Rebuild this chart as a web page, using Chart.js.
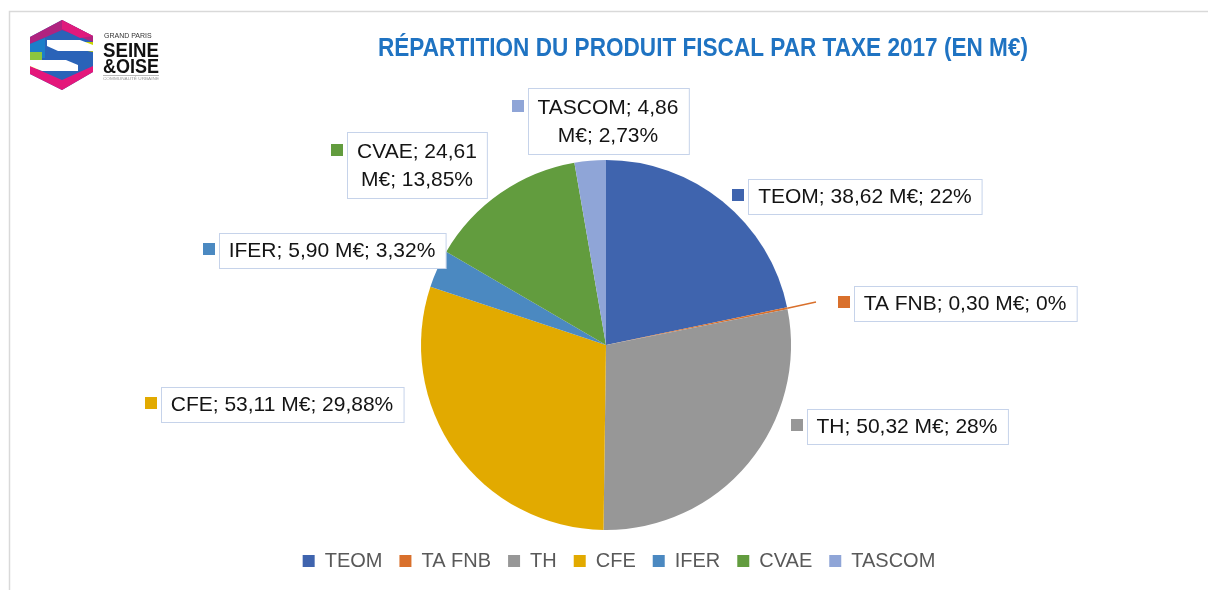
<!DOCTYPE html>
<html>
<head>
<meta charset="utf-8">
<script src="https://cdn.jsdelivr.net/npm/chart.js@4.4.0/dist/chart.umd.min.js"></script>
<style>
  body { margin: 0; background: #fff; }
  #wrap { position: absolute; left: 0; top: 0; width: 1208px; height: 590px; }
</style>
</head>
<body>
<div id="wrap"><canvas id="taxChart" width="1208" height="590"></canvas></div>
<script>
const taxNames = ['TEOM', 'TA FNB', 'TH', 'CFE', 'IFER', 'CVAE', 'TASCOM'];
const taxValues = [38.62, 0.30, 50.32, 53.11, 5.90, 24.61, 4.86];
const taxPercents = ['22%', '0%', '28%', '29,88%', '3,32%', '13,85%', '2,73%'];
const taxColors = ['#3f64ae', '#d9702c', '#979797', '#e2aa00', '#4b89c1', '#629c3e', '#8fa5d7'];

// where each callout box sits (centre), and whether it wraps on two lines
const calloutLayout = [
    { cx: 865, cy: 196 },
    { cx: 965, cy: 303, leaderTo: [816, 302] },
    { cx: 907, cy: 426 },
    { cx: 282, cy: 404 },
    { cx: 332, cy: 250 },
    { cx: 417, cy: 165, wrap: true },
    { cx: 608, cy: 121, wrap: true }
];

const LABEL_FONT = '21px "Liberation Sans", Arial, sans-serif';

function fmt(v) {
    return v.toFixed(2).replace('.', ',');
}

// frame, logo and title
const decorPlugin = {
    id: 'decor',
    afterLayout(chart) {
        // legend sits a little right of the pie centre in the original
        chart.legend.left += 13;
        chart.legend.right += 13;
    },
    beforeDraw(chart) {
        const c = chart.ctx;
        c.save();
        c.fillStyle = '#fff';
        c.fillRect(0, 0, chart.width, chart.height);
        c.strokeStyle = '#d9d9d9';
        c.lineWidth = 1.5;
        c.beginPath();
        c.moveTo(9.5, 600);
        c.lineTo(9.5, 11.5);
        c.lineTo(1220, 11.5);
        c.stroke();

        // logo hexagon
        const poly = (pts, col) => {
            c.fillStyle = col;
            c.beginPath();
            pts.forEach((p, i) => i ? c.lineTo(p[0], p[1]) : c.moveTo(p[0], p[1]));
            c.closePath();
            c.fill();
        };
        poly([[62, 20], [93, 36], [93, 72], [62, 90], [30, 74], [30, 37]], '#2a63b8');
        poly([[62, 20], [93, 36], [93, 42], [62, 30], [30, 44], [30, 37]], '#b0237f');
        poly([[62, 20], [93, 36], [80, 38], [62, 29]], '#e01a7c');
        poly([[30, 44], [45, 38], [45, 58], [30, 58]], '#1c7fc9');
        poly([[30, 52], [42, 52], [42, 62], [30, 60]], '#8cc63f');
        poly([[30, 60], [42, 62], [42, 70], [30, 68]], '#f2e500');
        poly([[62, 90], [93, 72], [93, 66], [62, 80], [30, 66], [30, 74]], '#e4177b');
        poly([[82, 42], [93, 42], [93, 52], [82, 50]], '#c8d400');
        poly([[47, 40], [80, 40], [93, 45], [93, 51], [58, 51], [47, 46]], '#ffffff');
        poly([[30, 60], [66, 60], [78, 65], [78, 71], [42, 71], [30, 66]], '#ffffff');

        c.fillStyle = '#333';
        c.textBaseline = 'alphabetic';
        c.textAlign = 'left';
        c.font = '7px "Liberation Sans", Arial, sans-serif';
        c.fillText('GRAND PARIS', 104, 38);
        const fitText = (txt, x, y, w, font) => {
            c.font = font;
            const m = c.measureText(txt).width;
            c.save();
            c.translate(x, y);
            c.scale(w / m, 1);
            c.fillText(txt, 0, 0);
            c.restore();
        };
        c.fillStyle = '#111';
        fitText('SEINE', 103, 57, 56, 'bold 21px "Liberation Sans Narrow", "Liberation Sans", sans-serif');
        fitText('&OISE', 103, 73, 56, 'bold 21px "Liberation Sans Narrow", "Liberation Sans", sans-serif');
        c.fillStyle = '#999';
        c.fillRect(103, 75, 56, 0.7);
        fitText('COMMUNAUTÉ URBAINE', 103, 80, 56, '4px "Liberation Sans", sans-serif');

        // title
        c.fillStyle = '#1f73c2';
        fitText('RÉPARTITION DU PRODUIT FISCAL PAR TAXE 2017 (EN M€)', 378, 56, 650,
            'bold 26px "Liberation Sans Narrow", "Liberation Sans", sans-serif');
        c.restore();
    }
};

// Excel-style callouts: boxed text with a colour key square
const calloutPlugin = {
    id: 'callouts',
    afterDatasetsDraw(chart) {
        const c = chart.ctx;
        const meta = chart.getDatasetMeta(0);
        c.save();
        c.font = LABEL_FONT;
        c.textAlign = 'center';
        c.textBaseline = 'middle';
        calloutLayout.forEach((pos, i) => {
            const val = fmt(taxValues[i]);
            const lines = pos.wrap
                ? [taxNames[i] + '; ' + val, 'M€; ' + taxPercents[i]]
                : [taxNames[i] + '; ' + val + ' M€; ' + taxPercents[i]];
            const lh = 28;
            const w = Math.max(...lines.map(l => c.measureText(l).width)) + 20;
            const h = lines.length === 1 ? 35 : 66;
            const left = Math.round(pos.cx - w / 2) + 0.5;
            const top = Math.round(pos.cy - h / 2) + 0.5;

            if (pos.leaderTo) {
                const arc = meta.data[i];
                const mid = (arc.startAngle + arc.endAngle) / 2;
                c.strokeStyle = taxColors[i];
                c.lineWidth = 1.5;
                c.beginPath();
                c.moveTo(arc.x + Math.cos(mid) * arc.outerRadius, arc.y + Math.sin(mid) * arc.outerRadius);
                c.lineTo(pos.leaderTo[0], pos.leaderTo[1]);
                c.stroke();
            }

            c.fillStyle = '#fff';
            c.fillRect(left, top, w, h);
            c.strokeStyle = '#c6d3ea';
            c.lineWidth = 1;
            c.strokeRect(left, top, w, h);

            const firstY = pos.cy - (lines.length - 1) * lh / 2;
            c.fillStyle = taxColors[i];
            c.fillRect(Math.round(left - 17), Math.round(firstY - 7), 12, 12);

            c.fillStyle = '#141414';
            lines.forEach((l, k) => c.fillText(l, pos.cx, firstY + k * lh + 1));
        });
        c.restore();
    }
};

new Chart(document.getElementById('taxChart'), {
    type: 'pie',
    data: {
        labels: taxNames,
        datasets: [{
            data: taxValues,
            backgroundColor: taxColors,
            borderWidth: 0,
            radius: 185
        }]
    },
    options: {
        responsive: false,
        animation: false,
        devicePixelRatio: 1,
        layout: { padding: { top: 156, left: 10, right: 6, bottom: 9 } },
        plugins: {
            legend: {
                position: 'bottom',
                labels: {
                    color: '#595959',
                    font: { family: '"Liberation Sans", Arial, sans-serif', size: 20 },
                    boxWidth: 12,
                    boxHeight: 12,
                    padding: 17
                }
            },
            tooltip: { enabled: false }
        }
    },
    plugins: [decorPlugin, calloutPlugin]
});
</script>
</body>
</html>
